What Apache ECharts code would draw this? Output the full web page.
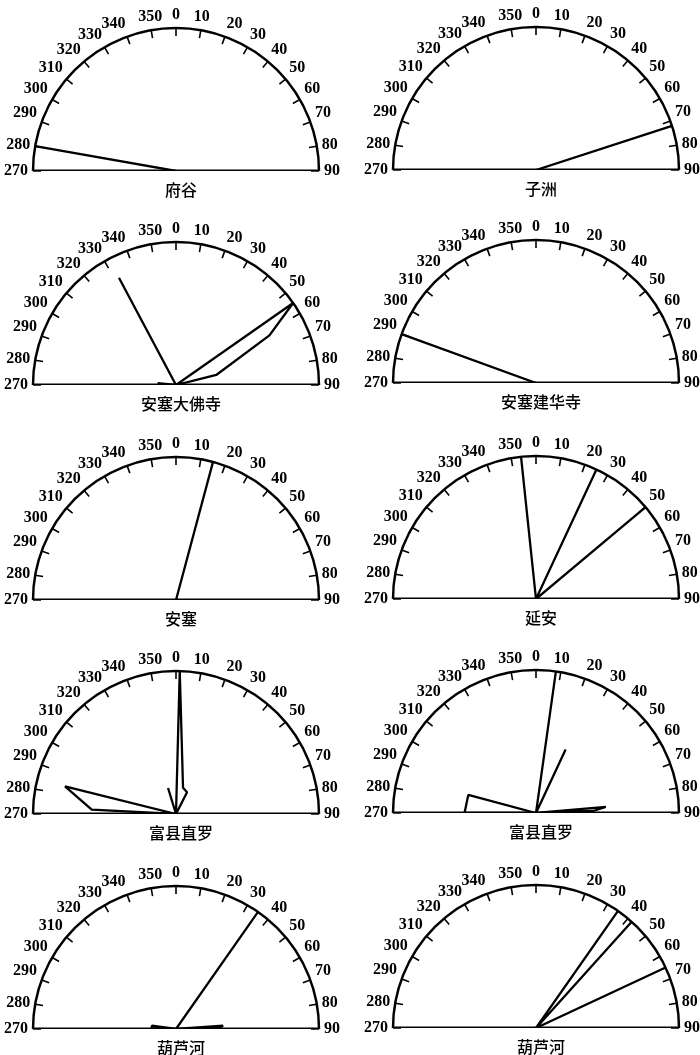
<!DOCTYPE html>
<html>
<head>
<meta charset="utf-8">
<script src="https://cdn.jsdelivr.net/npm/echarts@6/dist/echarts.min.js"></script>
<style>
  html, body { margin: 0; padding: 0; background: #fff; }
  #chartRose { width: 700px; height: 1055px; }
</style>
</head>
<body>
<div id="chartRose"></div>
<script>
// station names (panel order: left, right, row by row)
const stations = ['府谷', '子洲', '安塞大佛寺', '安塞建华寺', '安塞', '延安', '富县直罗', '富县直罗', '葫芦河', '葫芦河'];

// rose outlines: [azimuth in degrees, relative length], length 0 = centre
const fugu = [[0, 0], [280, 1.0], [0, 0]];
const zizhou = [[0, 0], [72, 1.0], [0, 0]];
const ansaiDafosi = [[0, 0], [276, 0.13], [0, 0], [332, 0.85], [0, 0], [55, 1.0], [62, 0.74], [76, 0.29], [0, 0]];
const ansaiJianhuasi = [[0, 0], [290, 1.0], [0, 0]];
const ansai = [[0, 0], [15, 1.0], [0, 0]];
const yanan = [[0, 0], [354, 1.0], [0, 0], [25, 1.0], [0, 0], [50, 1.0], [0, 0]];
const fuxianA = [[0, 0], [284, 0.8], [273, 0.59], [0, 0], [343, 0.19], [0, 0], [1.5, 1.0], [15, 0.19], [27, 0.17], [0, 0]];
const fuxianB = [[0, 0], [285, 0.49], [270, 0.5], [0, 0], [8, 1.0], [0, 0], [25, 0.49], [0, 0], [85, 0.49], [88, 0.4], [0, 0]];
const huluheA = [[0, 0], [278, 0.17], [272, 0.17], [0, 0], [35, 1.0], [0, 0], [86, 0.33], [89, 0.3], [0, 0]];
const huluheB = [[0, 0], [35, 1.0], [0, 0], [42, 1.0], [0, 0], [65, 1.0], [0, 0]];

const roses = [fugu, zizhou, ansaiDafosi, ansaiJianhuasi, ansai, yanan, fuxianA, fuxianB, huluheA, huluheB];

// layout of the half circles
const colX = [176, 536];
const baseY = [171, 170, 385, 383, 600, 599, 814, 813, 1029, 1028];
const R = 143;

// azimuth 270..360..90 mapped onto a continuous axis 270..450
function toAxis(az) { return az < 180 ? az + 360 : az; }

const polar = [], angleAxis = [], radiusAxis = [], series = [], title = [];

roses.forEach(function (rose, i) {
  const cx = colX[i % 2], cy = baseY[i];
  polar.push({ center: [cx, cy], radius: R });
  angleAxis.push({
    polarIndex: i,
    type: 'value',
    min: 270,
    max: 450,
    interval: 10,
    startAngle: 180,
    endAngle: 0,
    clockwise: true,
    axisLine: { lineStyle: { color: '#000', width: 2.5 } },
    axisTick: { inside: true, length: 8, lineStyle: { color: '#000', width: 1.6 } },
    axisLabel: {
      margin: 5,
      color: '#000',
      fontFamily: 'Liberation Serif',
      fontWeight: 'bold',
      fontSize: 16,
      showMinLabel: true,
      showMaxLabel: true,
      formatter: function (v) { return String(v % 360); }
    },
    splitLine: { show: false }
  });
  radiusAxis.push({
    polarIndex: i,
    type: 'value',
    min: 0,
    max: 1,
    show: false
  });
  // baseline: 270 end to 90 end through the centre
  series.push({
    type: 'line',
    coordinateSystem: 'polar',
    polarIndex: i,
    symbol: 'none',
    silent: true,
    lineStyle: { color: '#000', width: 2.8 },
    data: [[1, 270], [1, 450]]
  });
  series.push({
    name: stations[i],
    type: 'line',
    coordinateSystem: 'polar',
    polarIndex: i,
    symbol: 'none',
    lineStyle: { color: '#000', width: 2.3 },
    data: rose.map(function (p) { return [p[1], toAxis(p[0])]; })
  });
  title.push({
    text: stations[i],
    left: cx,
    top: cy + 6,
    textAlign: 'center',
    textStyle: {
      fontFamily: 'Noto Sans CJK SC',
      fontWeight: 500,
      fontSize: 16,
      color: '#000'
    }
  });
});

const chartRose = echarts.init(document.getElementById('chartRose'), null, { renderer: 'canvas' });
chartRose.setOption({
  backgroundColor: '#fff',
  animation: false,
  title: title,
  polar: polar,
  angleAxis: angleAxis,
  radiusAxis: radiusAxis,
  series: series
});
</script>
</body>
</html>
